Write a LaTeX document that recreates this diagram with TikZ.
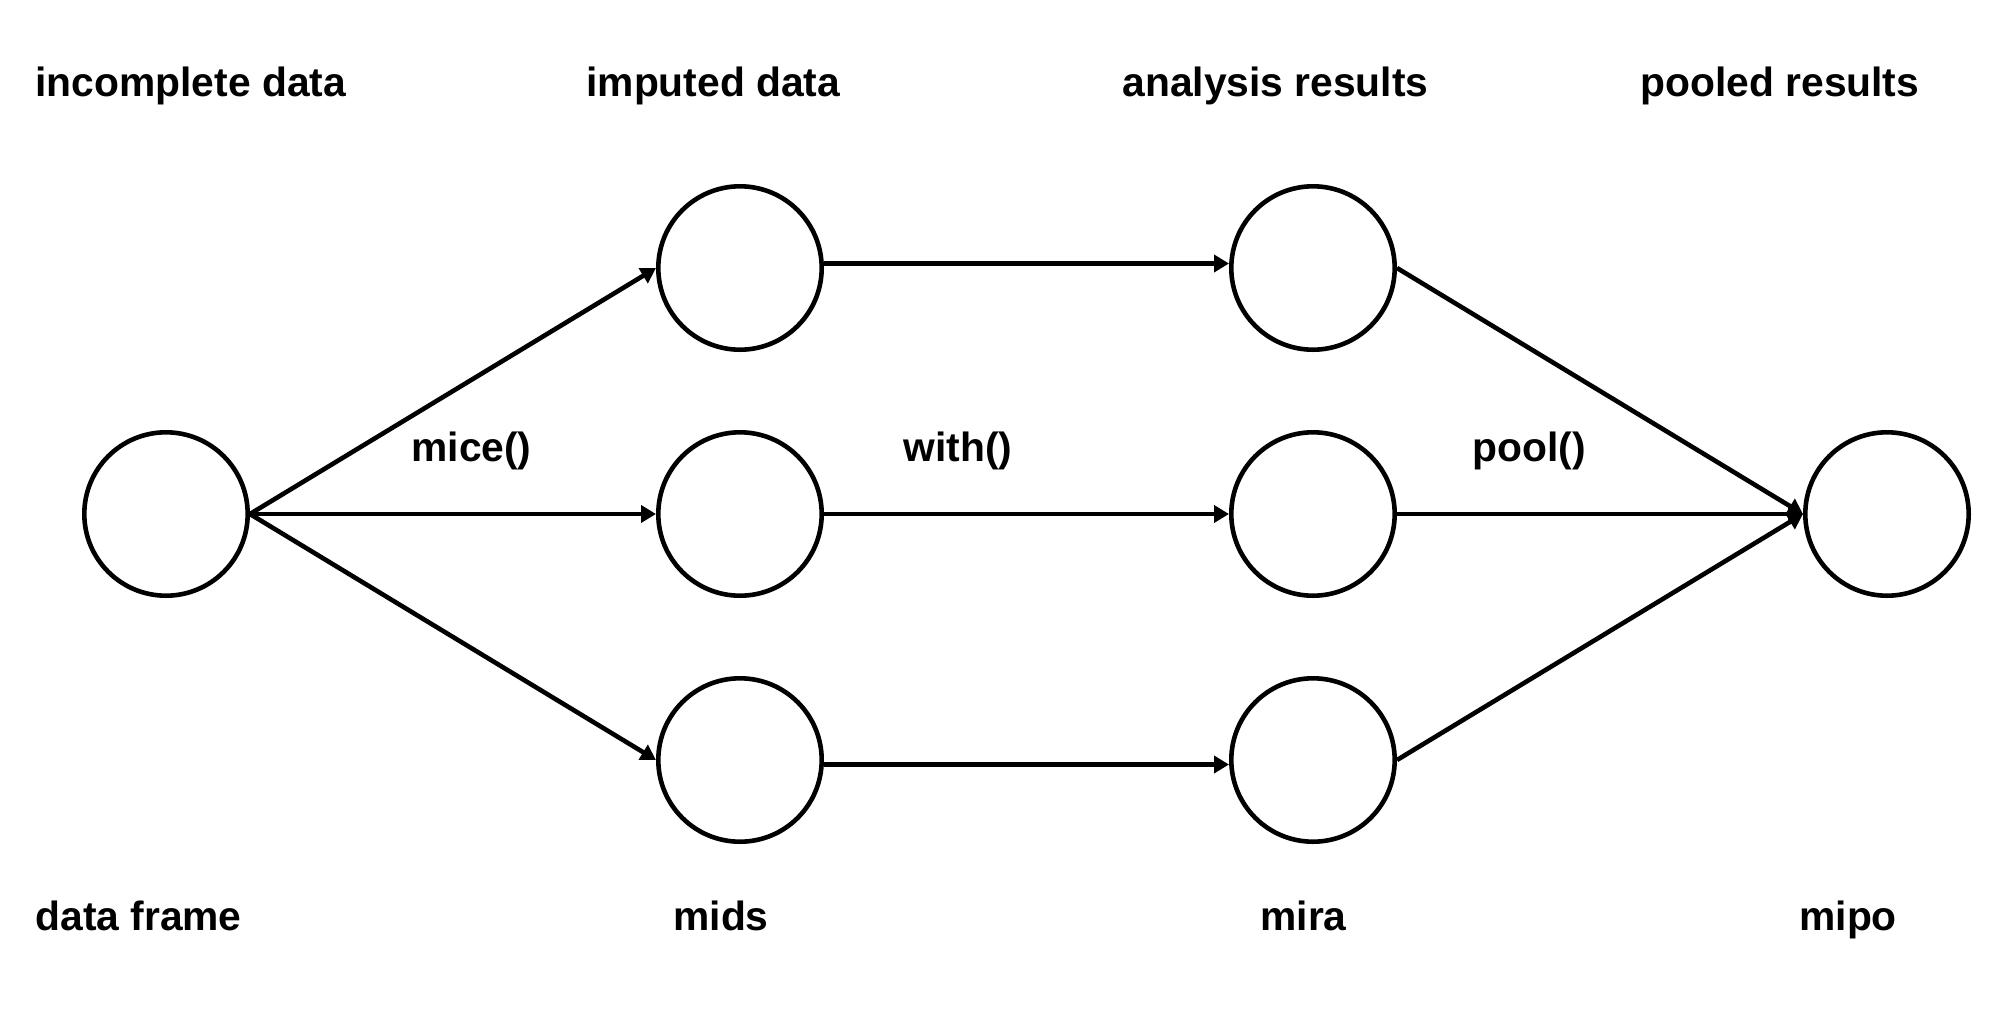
\documentclass[tikz,border=0pt]{standalone}
\usepackage{fontspec}
\setmainfont{Liberation Sans}
\usetikzlibrary{arrows.meta}
\begin{document}
\begin{tikzpicture}[x=0.5pt,y=-0.5pt,
  stage/.style={circle,draw=black,line width=2.3pt,minimum size=81.7pt,inner sep=0pt,fill=white},
  flow/.style={line width=2.3pt,-{Triangle[length=7.5pt,width=8.5pt]}},
  lbl/.style={anchor=base west,inner sep=0pt,font=\fontsize{20.4}{24}\selectfont\bfseries}]
\useasboundingbox[fill=white] (0,0) rectangle (2010,1008);

% stages
\node[stage] (df) at (166,514) {};
\node[stage] (imp1) at (740,268) {};
\node[stage] (imp2) at (740,514) {};
\node[stage] (imp3) at (740,760) {};
\node[stage] (ana1) at (1313,268) {};
\node[stage] (ana2) at (1313,514) {};
\node[stage] (ana3) at (1313,760) {};
\node[stage] (pool) at (1887,514) {};

% mice(): data frame to imputed data sets
\draw[flow] (df.east) -- (imp1.west);
\draw[flow] (df.east) -- (imp2.west);
\draw[flow] (df.east) -- (imp3.west);

% with(): analyses on each imputed data set
\draw[flow] ([yshift=2.25pt]imp1.east) -- ([yshift=2.25pt]ana1.west);
\draw[flow] (imp2.east) -- (ana2.west);
\draw[flow] ([yshift=-2.25pt]imp3.east) -- ([yshift=-2.25pt]ana3.west);

% pool(): combine results
\draw[flow] (ana1.east) -- (pool.west);
\draw[flow] (ana2.east) -- (pool.west);
\draw[flow] (ana3.east) -- (pool.west);

% column headings
\node[lbl] (h1) at (35,96) {incomplete data};
\node[lbl] (h2) at (586,96) {imputed data};
\node[lbl] (h3) at (1122,96) {analysis results};
\node[lbl] (h4) at (1640,96) {pooled results};

% function names
\node[lbl] (f1) at (411,461) {mice()};
\node[lbl] (f2) at (903,461) {with()};
\node[lbl] (f3) at (1472,461) {pool()};

% object classes
\node[lbl] (c1) at (35,930) {data frame};
\node[lbl] (c2) at (673,930) {mids};
\node[lbl] (c3) at (1260,930) {mira};
\node[lbl] (c4) at (1799,930) {mipo};
\end{tikzpicture}
\end{document}
